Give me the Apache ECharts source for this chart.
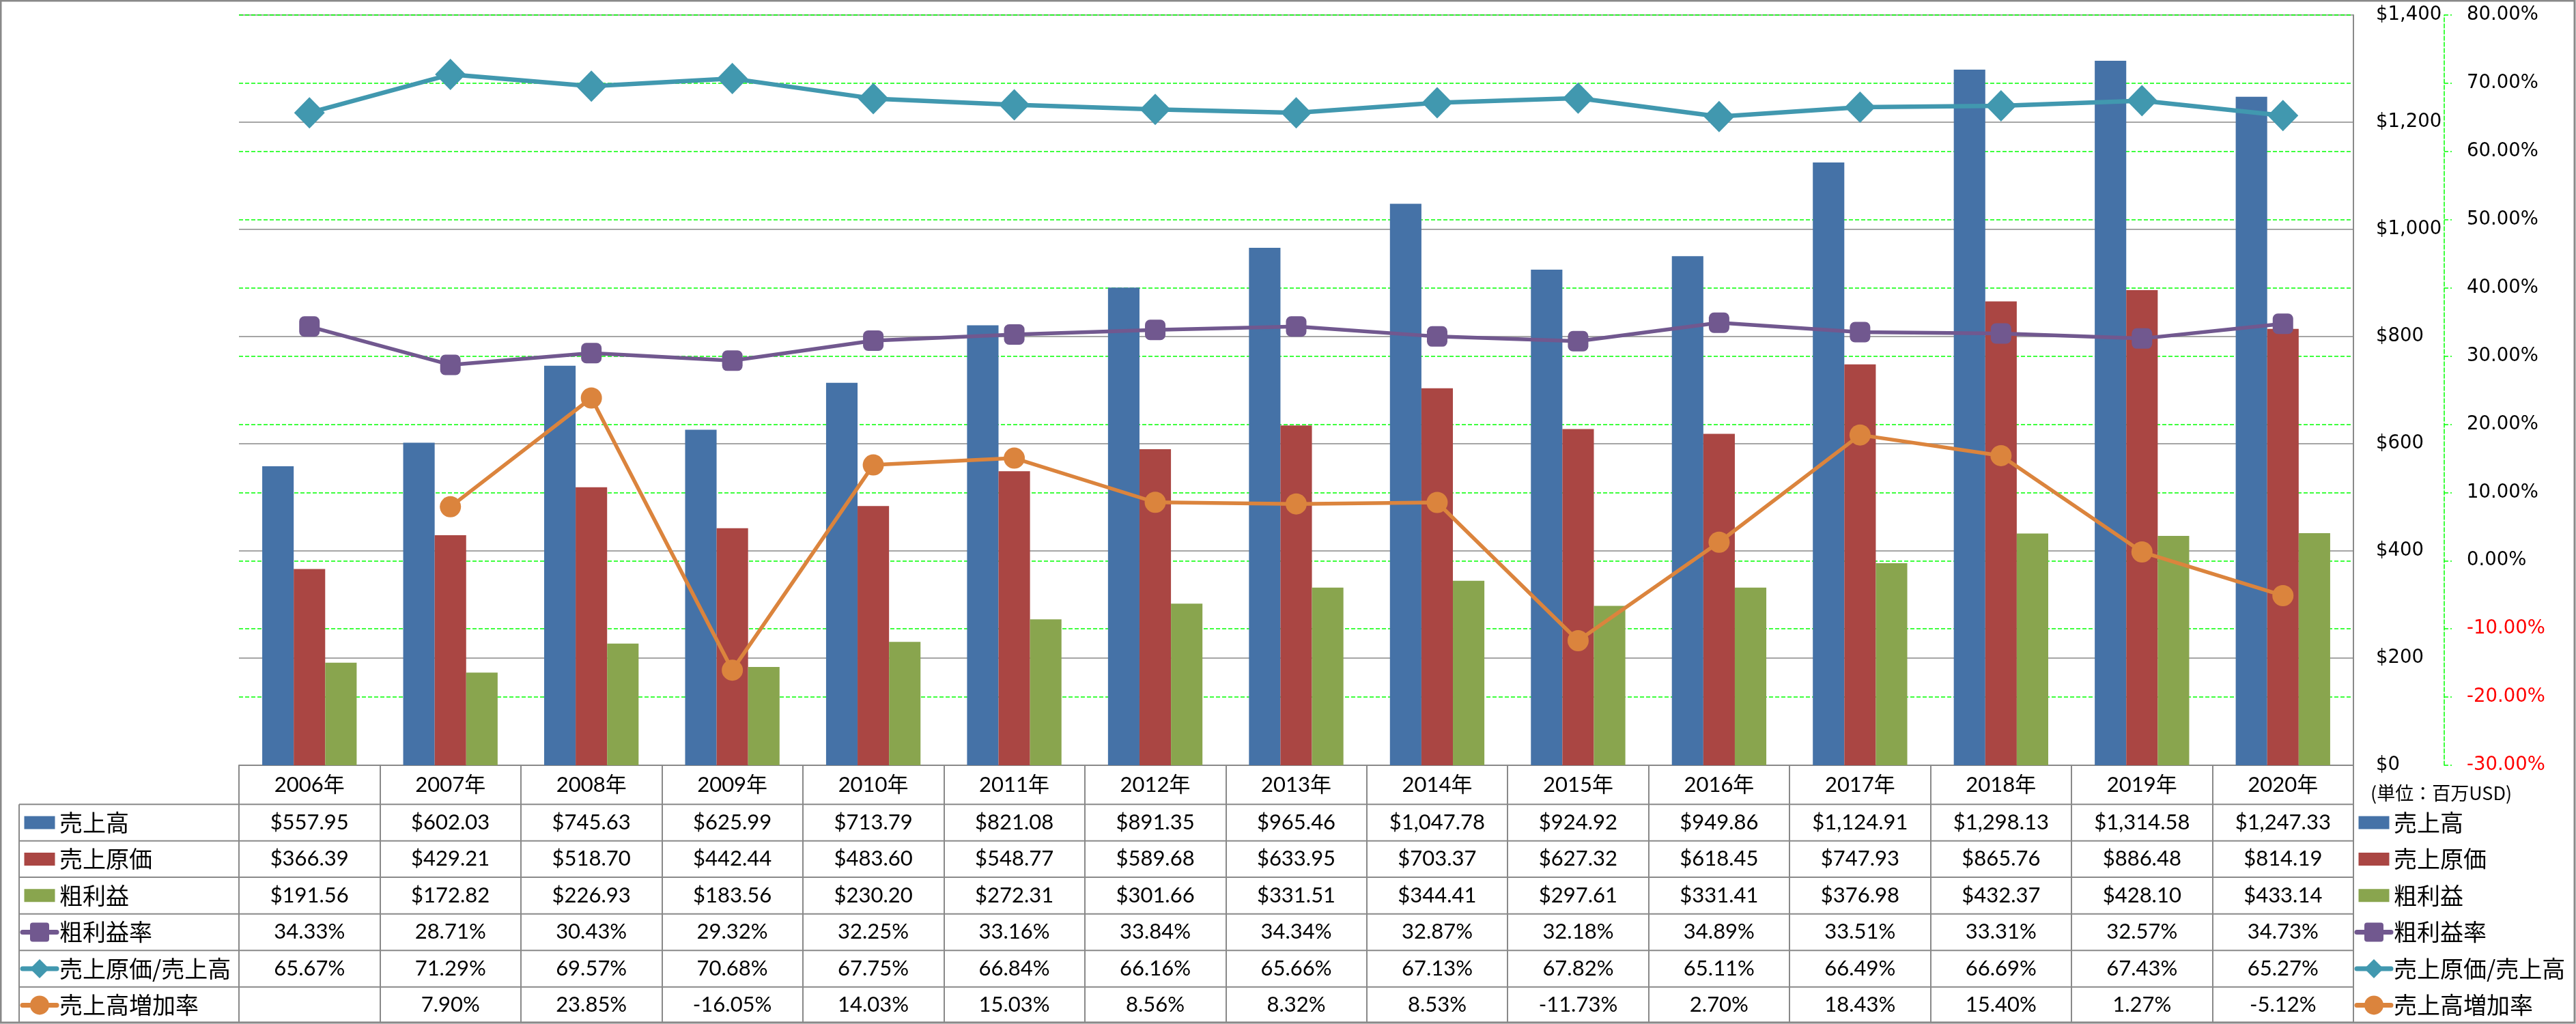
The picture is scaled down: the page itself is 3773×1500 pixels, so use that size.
<!DOCTYPE html>
<html><head><meta charset="utf-8">
<script src="https://cdn.jsdelivr.net/npm/echarts@6/dist/echarts.min.js"></script>
<style>html,body{margin:0;padding:0;background:#fff}#c{width:3773px;height:1500px}</style>
</head><body><div id="c"></div>
<script>
// ---------- DATA ----------
const years = ['2006年','2007年','2008年','2009年','2010年','2011年','2012年','2013年','2014年','2015年','2016年','2017年','2018年','2019年','2020年'];
const sales = [557.95, 602.03, 745.63, 625.99, 713.79, 821.08, 891.35, 965.46, 1047.78, 924.92, 949.86, 1124.91, 1298.13, 1314.58, 1247.33];
const costOfSales = [366.39, 429.21, 518.70, 442.44, 483.60, 548.77, 589.68, 633.95, 703.37, 627.32, 618.45, 747.93, 865.76, 886.48, 814.19];
const grossProfit = [191.56, 172.82, 226.93, 183.56, 230.20, 272.31, 301.66, 331.51, 344.41, 297.61, 331.41, 376.98, 432.37, 428.10, 433.14];
const grossMargin = [34.33, 28.71, 30.43, 29.32, 32.25, 33.16, 33.84, 34.34, 32.87, 32.18, 34.89, 33.51, 33.31, 32.57, 34.73];
const costRatio = [65.67, 71.29, 69.57, 70.68, 67.75, 66.84, 66.16, 65.66, 67.13, 67.82, 65.11, 66.49, 66.69, 67.43, 65.27];
const salesGrowth = [null, 7.90, 23.85, -16.05, 14.03, 15.03, 8.56, 8.32, 8.53, -11.73, 2.70, 18.43, 15.40, 1.27, -5.12];
const seriesNames = ['売上高','売上原価','粗利益','粗利益率','売上原価/売上高','売上高増加率'];
const unitLabel = '(単位：百万USD)';
const amountTicks = {min: 0, max: 1400, interval: 200};
const pctTicks = {min: -30, max: 80, interval: 10};

// ---------- STYLE / LAYOUT ----------
const colors = ['#4572A7', '#AA4643', '#89A54E', '#71588F', '#4198AF', '#DB843D'];
const kinds = ['bar','bar','bar','square','diamond','circle'];
const W = 3773, H = 1500;
const L = 350, R = 3447, T = 22, B = 1121;
const rowTops = [1178.3, 1231.7, 1285, 1338.7, 1392.3, 1445.7];
const tableBottom = 1497.7;
const rowH = 53.4;
const gray = '#898989';
const green = '#00FF00';
const tableFont = 'Lato, "Noto Sans CJK JP", sans-serif';
const tableSize = 31;
const cjkFont = '"Noto Sans CJK JP", sans-serif';
const axisFont = '"DejaVu Sans", Verdana, sans-serif';
const axisSize = 27.5;

const fmtMoney = v => v == null ? '' : '$' + v.toLocaleString('en-US', {minimumFractionDigits: 2, maximumFractionDigits: 2});
const fmtPct = v => v == null ? '' : v.toFixed(2) + '%';
const rows = [
  {data: sales, fmt: fmtMoney},
  {data: costOfSales, fmt: fmtMoney},
  {data: grossProfit, fmt: fmtMoney},
  {data: grossMargin, fmt: fmtPct},
  {data: costRatio, fmt: fmtPct},
  {data: salesGrowth, fmt: fmtPct}
];

const chart = echarts.init(document.getElementById('c'), null, {renderer: 'canvas'});

const baseCat = {type: 'category', data: years, gridIndex: 0, position: 'bottom', boundaryGap: true, silent: true, splitLine: {show: false}};
const xAxes = [
  Object.assign({}, baseCat, {
    axisLine: {show: true, lineStyle: {color: gray, width: 2}},
    axisTick: {show: true, interval: 0, length: tableBottom - B, lineStyle: {color: gray, width: 2}},
    axisLabel: {interval: 0, margin: 29, verticalAlign: 'middle', fontSize: tableSize, fontFamily: tableFont, color: '#000'}
  })
].concat(rows.map((r, i) => Object.assign({}, baseCat, {
  offset: rowTops[i] - B,
  axisLine: {show: false}, axisTick: {show: false},
  axisLabel: {interval: 0, margin: rowH / 2, verticalAlign: 'middle', fontSize: tableSize, fontFamily: tableFont, color: '#000',
    formatter: (v, idx) => r.fmt(r.data[idx])}
})));

// ---------- GRAPHICS (table frame, legends) ----------
const g = [];
g.push({type: 'rect', shape: {x: 1, y: 1, width: W - 3, height: H - 3}, style: {fill: null, stroke: gray, lineWidth: 3}, silent: true, z: 100});
rowTops.concat([tableBottom]).forEach(y => {
  g.push({type: 'line', shape: {x1: 28, y1: y, x2: R, y2: y}, style: {stroke: gray, lineWidth: 2}, silent: true});
});
g.push({type: 'line', shape: {x1: 28, y1: rowTops[0], x2: 28, y2: tableBottom}, style: {stroke: gray, lineWidth: 2}, silent: true});

function legendKey(cx, cy, i) {
  const c = colors[i];
  if (kinds[i] === 'bar') {
    g.push({type: 'rect', shape: {x: cx - 22.5, y: cy - 9.5, width: 45, height: 19}, style: {fill: c}, silent: true});
    return;
  }
  g.push({type: 'line', shape: {x1: cx - 25, y1: cy, x2: cx + 25, y2: cy}, style: {stroke: c, lineWidth: 7, lineCap: 'round'}, silent: true});
  if (kinds[i] === 'square') {
    g.push({type: 'rect', shape: {x: cx - 14, y: cy - 14, width: 28, height: 28, r: 4}, style: {fill: c}, silent: true});
  } else if (kinds[i] === 'diamond') {
    g.push({type: 'polygon', shape: {points: [[cx, cy - 14], [cx + 14, cy], [cx, cy + 14], [cx - 14, cy]]}, style: {fill: c}, silent: true});
  } else {
    g.push({type: 'circle', shape: {cx: cx, cy: cy, r: 14}, style: {fill: c}, silent: true});
  }
}
seriesNames.forEach((name, i) => {
  const cy = rowTops[i] + rowH / 2;
  legendKey(58, cy, i);
  g.push({type: 'text', x: 87, y: cy, style: {text: name, fontSize: 34, fontFamily: cjkFont, fill: '#000', verticalAlign: 'middle', align: 'left'}, silent: true});
  legendKey(3477, cy, i);
  g.push({type: 'text', x: 3506, y: cy, style: {text: name, fontSize: 34, fontFamily: cjkFont, fill: '#000', verticalAlign: 'middle', align: 'left'}, silent: true});
});
g.push({type: 'text', x: 3472, y: 1162, style: {text: unitLabel, fontSize: 27, fontFamily: cjkFont, fill: '#000', verticalAlign: 'middle', align: 'left'}, silent: true});

// ---------- SERIES ----------
const barData = [sales, costOfSales, grossProfit];
const lineData = [grossMargin, costRatio, salesGrowth];
const series = [];
barData.forEach((d, i) => series.push({
  name: seriesNames[i], type: 'bar', xAxisIndex: 0, yAxisIndex: 0, data: d,
  barGap: '0%', barCategoryGap: '33%', itemStyle: {color: colors[i]}, silent: true
}));
const symbolDefs = [
  {symbol: 'roundRect', size: 30},
  {symbol: 'diamond', size: [45, 46]},
  {symbol: 'circle', size: 31}
];
lineData.forEach((d, j) => {
  const i = j + 3;
  series.push({
    name: seriesNames[i], type: 'line', xAxisIndex: 0, yAxisIndex: 1, data: d,
    symbol: symbolDefs[j].symbol, symbolSize: symbolDefs[j].size, showSymbol: true, showAllSymbol: true,
    connectNulls: false,
    lineStyle: {color: colors[i], width: j === 1 ? 6.5 : 5.5},
    itemStyle: {color: colors[i]}, silent: true, z: 3
  });
});

chart.setOption({
  animation: false,
  backgroundColor: '#fff',
  grid: {left: L, right: W - R, top: T, bottom: H - B, containLabel: false, outerBoundsMode: 'none'},
  xAxis: xAxes,
  yAxis: [
    {type: 'value', position: 'right', min: amountTicks.min, max: amountTicks.max, interval: amountTicks.interval,
      axisLine: {show: true, lineStyle: {color: gray, width: 2}}, axisTick: {show: false},
      splitLine: {show: true, lineStyle: {color: gray, width: 1.5}},
      axisLabel: {margin: 33, fontSize: axisSize, fontFamily: axisFont, color: '#000', align: 'left',
        formatter: v => '$' + v.toLocaleString('en-US')}},
    {type: 'value', position: 'right', offset: 133, min: pctTicks.min, max: pctTicks.max, interval: pctTicks.interval,
      axisLine: {show: true, lineStyle: {color: green, width: 1.5, type: [6, 3]}},
      axisTick: {show: true, length: 11, lineStyle: {color: green, width: 1.5, type: [6, 3]}},
      splitLine: {show: true, lineStyle: {color: green, width: 1.5, type: [6, 3]}},
      axisLabel: {margin: 33, fontSize: axisSize, fontFamily: axisFont, align: 'left',
        color: val => (Number(val) < 0 ? '#FF0000' : '#000000'),
        formatter: v => v.toFixed(2) + '%'}}
  ],
  series: series,
  graphic: {elements: g}
});
</script></body></html>
